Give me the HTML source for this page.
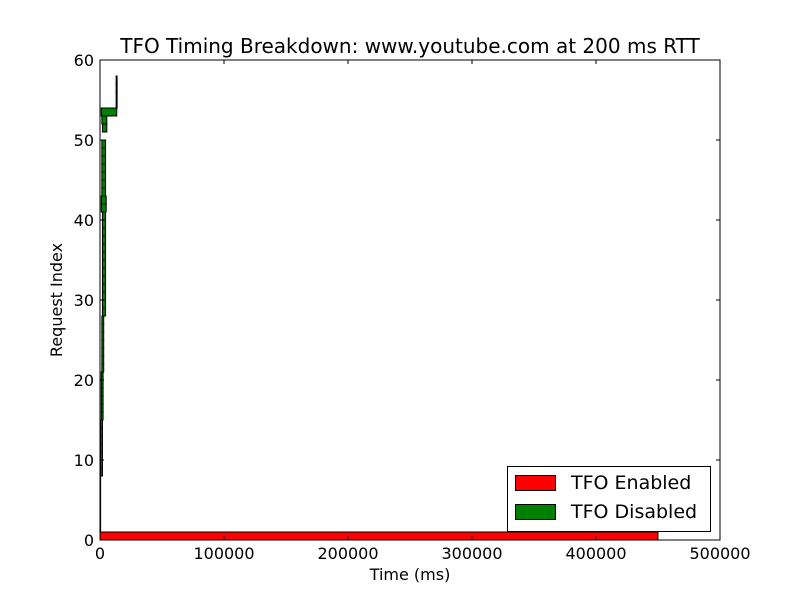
<!DOCTYPE html>
<html><head><meta charset="utf-8"><style>
body{margin:0;background:#fff;}
svg{display:block;font-family:"DejaVu Sans","Liberation Sans",sans-serif;}
</style></head><body>
<svg id="chart" width="800" height="600" viewBox="0 0 800 600">
<rect width="800" height="600" fill="#fff"/>
<g id="bars"></g>
<g id="axes"></g>
</svg>
<script>
const redIndex = [0];
const redLeft = [0];
const redWidth = [450000];
const greenIndex = [1,2,3,4,5,6,7,8,9,10,11,12,13,14,15,16,17,18,19,20,21,22,23,24,25,26,27,28,29,30,31,32,33,34,35,36,37,38,39,40,41,42,43,44,45,46,47,48,49,51,52,53,54,55,56,57];
const greenLeft = [0,0,0,0,0,0,0,500,500,500,500,500,500,500,1000,1000,1000,1000,1000,1000,1500,1500,1500,1500,1500,1500,1500,2000,2000,2000,2000,2000,2000,2000,2000,2000,2000,2000,2000,2000,1000,1000,1500,1500,1500,1500,1500,1500,1500,2000,1500,1000,13000,13000,13000,13000];
const greenWidth = [500,500,500,500,500,500,500,1500,1500,1500,1500,1500,1500,1500,1500,1500,1500,1500,1500,1500,1500,1500,1500,1500,1500,1500,1500,2500,2500,2500,2500,2500,2500,2500,2500,2500,2500,2500,2500,2500,4000,4000,3000,3000,3000,3000,3000,3000,3000,3500,4000,12500,800,800,800,800];
const xTicks = [0,100000,200000,300000,400000,500000];
const yTicks = [0,10,20,30,40,50,60];

const L=100,R=720,T=60,B=540;
const xs = v => L + (v/500000)*(R-L);
const ys = v => B - (v/60)*(B-T);
const NS="http://www.w3.org/2000/svg";
function mk(tag, attrs, parent){const e=document.createElementNS(NS,tag);for(const k in attrs)e.setAttribute(k,attrs[k]);parent.appendChild(e);return e;}
const bars=document.getElementById('bars'), axes=document.getElementById('axes');

function drawBar(i,l,w,color,name){
  const x0=xs(l), x1=xs(l+w);
  const r=mk('rect',{x:x0,y:ys(i+1),width:Math.max(x1-x0,0.5),height:ys(i)-ys(i+1),fill:color,stroke:'#000','stroke-width':1},bars);
  
  
}
redIndex.forEach((v,k)=>drawBar(v,redLeft[k],redWidth[k],'#ff0000','bar-tfo-enabled-'+v));
greenIndex.forEach((v,k)=>drawBar(v,greenLeft[k],greenWidth[k],'#008000','bar-tfo-disabled-'+v));

const frame=mk('rect',{x:L,y:T,width:R-L,height:B-T,fill:'none',stroke:'#000','stroke-width':1},axes);


xTicks.forEach(v=>{
  const x=xs(v);
  mk('line',{x1:x,y1:B,x2:x,y2:B-4,stroke:'#000'},axes);
  mk('line',{x1:x,y1:T,x2:x,y2:T+4,stroke:'#000'},axes);
  const t=mk('text',{x:x,y:B+19,'text-anchor':'middle','font-size':16},axes);t.textContent=v;
  
  
});
yTicks.forEach(v=>{
  const y=ys(v);
  mk('line',{x1:L,y1:y,x2:L+4,y2:y,stroke:'#000'},axes);
  mk('line',{x1:R,y1:y,x2:R-4,y2:y,stroke:'#000'},axes);
  const t=mk('text',{x:L-6,y:y+6,'text-anchor':'end','font-size':16},axes);t.textContent=v;
  
  
});
</script>
<svg style="position:absolute;left:0;top:0" width="800" height="600">
<text x="410" y="53" text-anchor="middle" font-size="20" font-family="DejaVu Sans, sans-serif">TFO Timing Breakdown: www.youtube.com at 200 ms RTT</text>
<text x="410" y="580" text-anchor="middle" font-size="16" font-family="DejaVu Sans, sans-serif">Time (ms)</text>
<text x="0" y="0" transform="translate(62,300) rotate(-90)" text-anchor="middle" font-size="16" font-family="DejaVu Sans, sans-serif">Request Index</text>
<g>
<rect x="507.5" y="466.5" width="203" height="65" fill="#fff" stroke="#000"/>
<g>
<rect x="515.5" y="475.5" width="40" height="15" fill="#ff0000" stroke="#000"/>
<text x="571" y="489" font-size="19" font-family="DejaVu Sans, sans-serif">TFO Enabled</text>
</g>
<g>
<rect x="515.5" y="504.5" width="40" height="15" fill="#008000" stroke="#000"/>
<text x="571" y="518" font-size="19" font-family="DejaVu Sans, sans-serif">TFO Disabled</text>
</g>
</g>
</svg>
</body></html>
